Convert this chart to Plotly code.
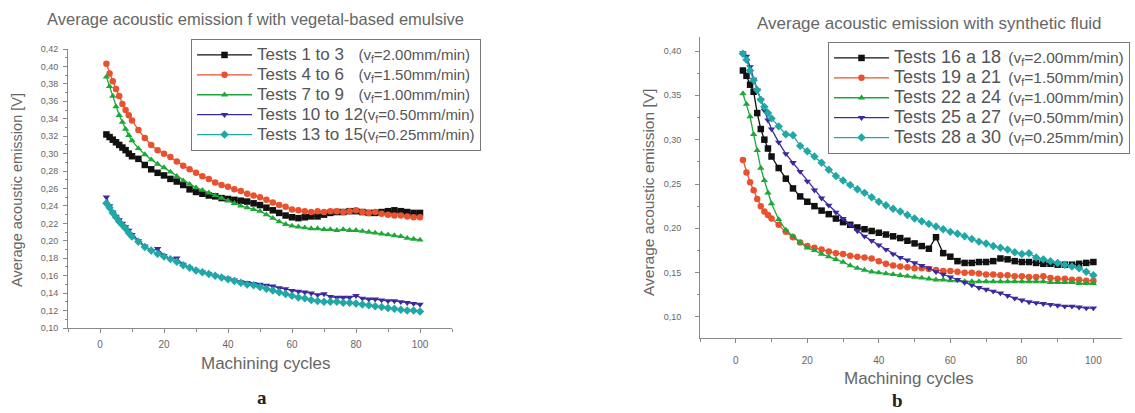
import plotly.graph_objects as go

# ---------------- data ----------------
cycles = [2, 3, 4, 5, 6, 7, 8, 9, 10] + list(range(12, 101, 2))

# (a) vegetal-based emulsive
a_names = ["Tests 1 to 3", "Tests 4 to 6", "Tests 7 to 9", "Tests 10 to 12", "Tests 13 to 15"]
a_speeds = ["2.00", "1.50", "1.00", "0.50", "0.25"]
a_t1_3 = [0.322, 0.319, 0.316, 0.313, 0.310, 0.307, 0.304, 0.300, 0.297, 0.294, 0.287, 0.282, 0.278, 0.275,
          0.271, 0.268, 0.264, 0.259, 0.256, 0.254, 0.252, 0.251, 0.249, 0.248, 0.247, 0.246, 0.245, 0.243,
          0.241, 0.238, 0.235, 0.232, 0.229, 0.227, 0.226, 0.227, 0.228, 0.228, 0.230, 0.232, 0.233, 0.233,
          0.234, 0.234, 0.233, 0.232, 0.232, 0.233, 0.234, 0.235, 0.234, 0.233, 0.232, 0.232]
a_t4_6 = [0.403, 0.392, 0.383, 0.374, 0.366, 0.357, 0.350, 0.344, 0.338, 0.327, 0.318, 0.310, 0.304, 0.300,
          0.296, 0.291, 0.286, 0.282, 0.278, 0.274, 0.271, 0.267, 0.264, 0.262, 0.259, 0.257, 0.254, 0.252,
          0.250, 0.247, 0.244, 0.241, 0.239, 0.236, 0.235, 0.234, 0.233, 0.234, 0.233, 0.234, 0.234, 0.233,
          0.234, 0.235, 0.233, 0.232, 0.233, 0.231, 0.230, 0.229, 0.229, 0.228, 0.227, 0.227]
a_t7_9 = [0.388, 0.377, 0.366, 0.354, 0.344, 0.336, 0.328, 0.321, 0.315, 0.306, 0.299, 0.293, 0.288, 0.284,
          0.279, 0.274, 0.269, 0.265, 0.261, 0.258, 0.255, 0.252, 0.249, 0.246, 0.243, 0.240, 0.238, 0.236,
          0.234, 0.230, 0.226, 0.222, 0.219, 0.217, 0.216, 0.215, 0.214, 0.214, 0.213, 0.213, 0.212, 0.213,
          0.212, 0.212, 0.211, 0.210, 0.209, 0.208, 0.207, 0.206, 0.205, 0.203, 0.202, 0.201]
a_t10_12 = [0.250, 0.240, 0.233, 0.228, 0.224, 0.220, 0.216, 0.212, 0.207, 0.200, 0.194, 0.188, 0.191, 0.183,
            0.179, 0.180, 0.173, 0.169, 0.166, 0.164, 0.162, 0.160, 0.158, 0.157, 0.155, 0.153, 0.152, 0.151,
            0.150, 0.149, 0.148, 0.146, 0.145, 0.143, 0.142, 0.141, 0.140, 0.138, 0.139, 0.136, 0.135, 0.135,
            0.135, 0.137, 0.134, 0.133, 0.133, 0.132, 0.131, 0.131, 0.130, 0.129, 0.128, 0.127]
a_t13_15 = [0.243, 0.238, 0.232, 0.227, 0.222, 0.218, 0.214, 0.209, 0.205, 0.199, 0.193, 0.189, 0.185, 0.182,
            0.179, 0.176, 0.172, 0.169, 0.166, 0.164, 0.162, 0.160, 0.158, 0.156, 0.154, 0.152, 0.150, 0.149,
            0.147, 0.145, 0.143, 0.141, 0.139, 0.137, 0.135, 0.134, 0.132, 0.131, 0.130, 0.130, 0.130, 0.129,
            0.129, 0.128, 0.127, 0.126, 0.125, 0.124, 0.123, 0.122, 0.121, 0.120, 0.120, 0.119]

# (b) synthetic fluid
b_names = ["Tests 16 a 18", "Tests 19 a 21", "Tests 22 a 24", "Tests 25 a 27", "Tests 28 a 30"]
b_speeds = ["2.00", "1.50", "1.00", "0.50", "0.25"]
b_t16_18 = [0.378, 0.372, 0.362, 0.354, 0.330, 0.312, 0.300, 0.290, 0.281, 0.268, 0.256, 0.245, 0.236, 0.230,
            0.225, 0.220, 0.216, 0.211, 0.207, 0.204, 0.201, 0.199, 0.197, 0.195, 0.193, 0.191, 0.189, 0.186,
            0.183, 0.180, 0.177, 0.190, 0.172, 0.168, 0.163, 0.161, 0.161, 0.162, 0.162, 0.163, 0.166, 0.165,
            0.163, 0.162, 0.162, 0.161, 0.160, 0.160, 0.159, 0.159, 0.159, 0.160, 0.161, 0.162]
b_t19_21 = [0.277, 0.263, 0.252, 0.243, 0.233, 0.225, 0.219, 0.215, 0.211, 0.204, 0.196, 0.190, 0.184, 0.180,
            0.178, 0.176, 0.174, 0.172, 0.171, 0.169, 0.168, 0.167, 0.166, 0.163, 0.160, 0.158, 0.157, 0.156,
            0.155, 0.155, 0.154, 0.153, 0.152, 0.152, 0.151, 0.150, 0.150, 0.149, 0.148, 0.148, 0.147, 0.147,
            0.146, 0.146, 0.145, 0.145, 0.146, 0.144, 0.143, 0.143, 0.142, 0.142, 0.141, 0.141]
b_t22_24 = [0.352, 0.340, 0.326, 0.306, 0.288, 0.268, 0.254, 0.240, 0.228, 0.210, 0.198, 0.191, 0.184, 0.178,
            0.175, 0.171, 0.168, 0.165, 0.162, 0.158, 0.155, 0.153, 0.151, 0.150, 0.149, 0.148, 0.147, 0.146,
            0.145, 0.144, 0.143, 0.142, 0.142, 0.141, 0.141, 0.140, 0.140, 0.140, 0.140, 0.140, 0.140, 0.140,
            0.140, 0.140, 0.140, 0.140, 0.140, 0.139, 0.139, 0.139, 0.139, 0.138, 0.138, 0.138]
b_t25_27 = [0.398, 0.394, 0.382, 0.368, 0.356, 0.345, 0.333, 0.322, 0.312, 0.297, 0.284, 0.274, 0.264, 0.253,
            0.243, 0.234, 0.226, 0.218, 0.211, 0.204, 0.197, 0.191, 0.186, 0.181, 0.176, 0.171, 0.167, 0.164,
            0.161, 0.158, 0.155, 0.151, 0.148, 0.145, 0.142, 0.139, 0.136, 0.133, 0.131, 0.129, 0.127, 0.124,
            0.121, 0.119, 0.117, 0.116, 0.115, 0.114, 0.113, 0.112, 0.112, 0.111, 0.110, 0.110]
b_t28_30 = [0.397, 0.390, 0.378, 0.367, 0.356, 0.345, 0.337, 0.330, 0.324, 0.315, 0.306, 0.305, 0.293, 0.287,
            0.281, 0.274, 0.266, 0.259, 0.254, 0.249, 0.244, 0.240, 0.235, 0.230, 0.226, 0.222, 0.219, 0.215,
            0.211, 0.208, 0.205, 0.202, 0.199, 0.196, 0.194, 0.191, 0.188, 0.185, 0.183, 0.180, 0.178, 0.176,
            0.173, 0.171, 0.172, 0.167, 0.165, 0.163, 0.161, 0.159, 0.157, 0.155, 0.151, 0.147]

a_series = [a_t1_3, a_t4_6, a_t7_9, a_t10_12, a_t13_15]
b_series = [b_t16_18, b_t19_21, b_t22_24, b_t25_27, b_t28_30]

# ---------------- styles ----------------
colors = ["#111111", "#e8522e", "#1fa83a", "#3b2a9e", "#1fa8a6"]
symbols = ["square", "circle", "triangle-up", "triangle-down", "diamond"]
W, H = 1135, 413
FONT = "Liberation Sans, Arial, sans-serif"
GREY = "#666666"
AX = "#8a8a8a"
NB = "\u00a0"


def px_x(p):
    return p / W


def px_y(p):
    return 1 - p / H


def label(name, speed, pad, main_size, sub_size):
    return (f"<span style='font-size:{main_size}px'>{name}</span>{pad}"
            f"<span style='font-size:{sub_size}px'>(v<sub>f</sub>={speed}mm/min)</span>")


fig = go.Figure()
pads_a = [NB * 4, NB * 4, NB * 4, "", ""]
for i, ys in enumerate(a_series):
    fig.add_trace(go.Scatter(
        x=cycles, y=ys, mode="lines+markers", name=label(a_names[i], a_speeds[i], pads_a[i], 17, 15),
        line=dict(color=colors[i], width=1.3),
        marker=dict(symbol=symbols[i], size=6.5, color=colors[i]),
        xaxis="x", yaxis="y", legend="legend"))
for i, ys in enumerate(b_series):
    fig.add_trace(go.Scatter(
        x=cycles, y=ys, mode="lines+markers", name=label(b_names[i], b_speeds[i], NB * 2, 18, 15.5),
        line=dict(color=colors[i], width=1.3),
        marker=dict(symbol=symbols[i], size=6.5, color=colors[i]),
        xaxis="x2", yaxis="y2", legend="legend2"))

axis_common = dict(showline=True, linecolor=AX, linewidth=1, ticks="outside", ticklen=4,
                   tickcolor=AX, showgrid=False, zeroline=False, automargin=False)

fig.update_layout(
    width=W, height=H, margin=dict(l=0, r=0, t=0, b=0, autoexpand=False),
    paper_bgcolor="white", plot_bgcolor="white",
    separators=",.",
    font=dict(family=FONT, color=GREY),
    xaxis=dict(domain=[px_x(68), px_x(452)], range=[-10, 110], tick0=0, dtick=20,
               minor=dict(dtick=10, ticks="outside", ticklen=3, tickcolor=AX),
               tickfont=dict(size=10, color=GREY, family=FONT), ticklabelstandoff=3,
               anchor="y", **axis_common),
    yaxis=dict(domain=[px_y(328), px_y(49)], range=[0.10, 0.42], tick0=0.10, dtick=0.02, tickformat=".2f",
               minor=dict(dtick=0.01, ticks="outside", ticklen=2, tickcolor=AX),
               tickfont=dict(size=9, color=GREY, family=FONT), ticklabelstandoff=3,
               anchor="x", **axis_common),
    xaxis2=dict(domain=[px_x(700), px_x(1122)], range=[-10, 108], tick0=0, dtick=20,
                minor=dict(dtick=10, ticks="outside", ticklen=3, tickcolor=AX),
                tickfont=dict(size=10, color=GREY, family=FONT), ticklabelstandoff=9,
                anchor="y2", **axis_common),
    yaxis2=dict(domain=[px_y(338), px_y(37)], range=[0.0763, 0.4158], tick0=0.10, dtick=0.05, tickformat=".2f",
                minor=dict(dtick=0.025, ticks="outside", ticklen=2, tickcolor=AX),
                tickfont=dict(size=9, color=GREY, family=FONT), ticklabelstandoff=12,
                anchor="x2", **axis_common),
    legend=dict(x=px_x(191), y=px_y(39), xanchor="left", yanchor="top",
                bordercolor="#777777", borderwidth=1, bgcolor="white",
                font=dict(size=13, color="#555555", family=FONT), tracegroupgap=0, itemwidth=55),
    legend2=dict(x=px_x(828), y=px_y(42), xanchor="left", yanchor="top",
                 bordercolor="#777777", borderwidth=1, bgcolor="white",
                 font=dict(size=13, color="#555555", family=FONT), tracegroupgap=0, itemwidth=55),
    showlegend=True,
)


def note(text, x, y, size, angle=0, color=GREY, family=FONT):
    fig.add_annotation(text=text, xref="paper", yref="paper", x=px_x(x), y=px_y(y),
                       xanchor="center", yanchor="middle", showarrow=False, textangle=angle,
                       font=dict(size=size, color=color, family=family))


note("Average acoustic emission f with vegetal-based emulsive", 255, 19, 16.5)
note("Average acoustic emission with synthetic fluid", 929, 23, 17)
note("Machining cycles", 265, 363, 17)
note("Machining cycles", 908, 378, 17)
note("Average acoustic emission [V]", 17, 190, 14.5, angle=-90)
note("Average acoustic emission [V]", 648, 193, 15.5, angle=-90)
note("<b>a</b>", 262, 397, 19, color="#222222", family="Liberation Serif, Times New Roman, serif")
note("<b>b</b>", 897, 400, 19, color="#222222", family="Liberation Serif, Times New Roman, serif")

fig.write_html("out.html", config={"displayModeBar": False},
               post_script="document.body.style.margin='0px';")
